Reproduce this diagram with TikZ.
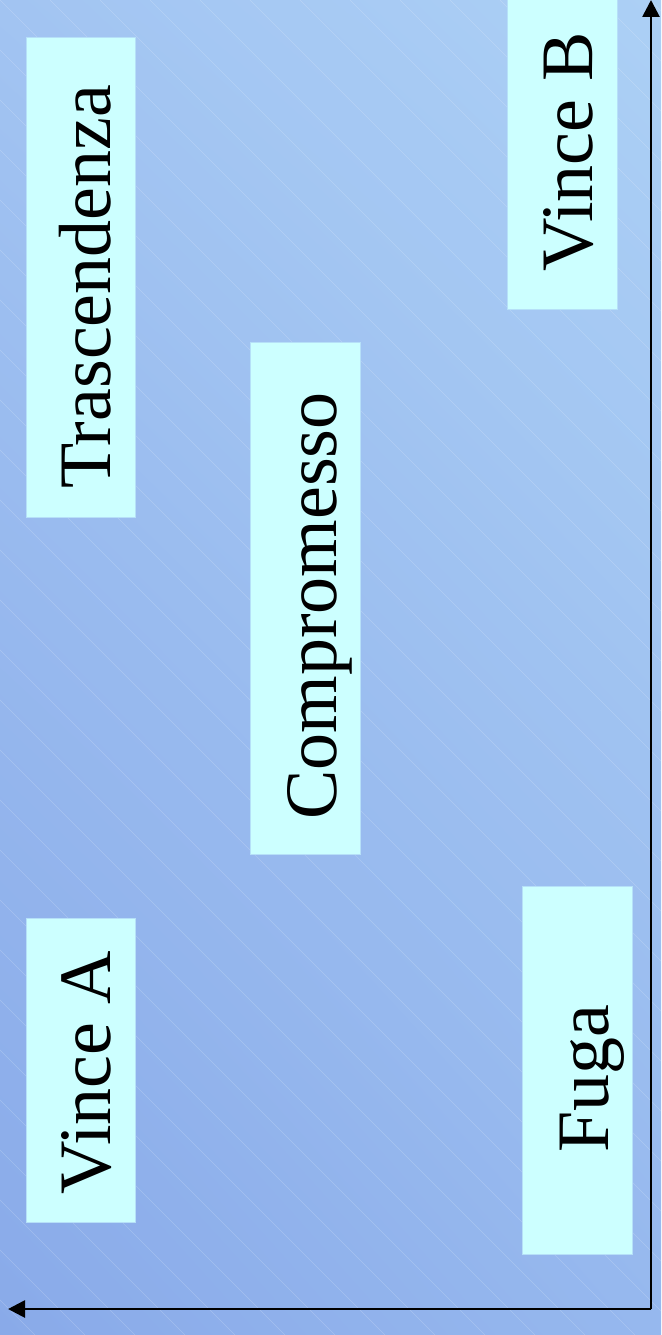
\documentclass[tikz,border=0pt]{standalone}
\usepackage{xcolor}
\usepackage{fontspec}
\setmainfont{Liberation Serif}
\usepackage{tikz}
\usetikzlibrary{arrows.meta, positioning, shadings}
\definecolor{bgupleft}{HTML}{A2C4F2}
\definecolor{bgupright}{HTML}{ACD0F5}
\definecolor{bglowleft}{HTML}{89AAE9}
\definecolor{bglowright}{HTML}{96B8EE}
\definecolor{outcomefill}{HTML}{CCFFFF}
\definecolor{outcomeedge}{HTML}{B6E0F8}

\begin{document}
\begin{tikzpicture}[x=1pt, y=-1pt,
    outcome/.style={fill=outcomefill, draw=outcomeedge, line width=0.6pt, inner sep=0pt},
    outlabel/.style={rotate=90, anchor=base west, inner sep=0pt, font=\fontsize{74}{80}\selectfont},
    axis/.style={line width=2.7pt, -{Triangle[length=17pt, width=17pt]}}]
    \useasboundingbox (0,0) rectangle (661,1335);

    % Background
    \shade[upper left=bgupleft, upper right=bgupright, lower left=bglowleft, lower right=bglowright] (0,0) rectangle (661,1335);
    \begin{scope}
        \clip (0,0) rectangle (661,1335);
        \foreach \i in {-1350,-1300,...,650}
            \draw[white, opacity=0.2, line width=0.5pt] (\i,0) -- ++(1335,1335);
    \end{scope}

    % Outcome boxes
    \node[outcome, minimum width=109pt, minimum height=480pt] (trasc) at (80.5,277) {};
    \node[outcome, minimum width=110pt, minimum height=310pt] (vinceb) at (562,154) {};
    \node[outcome, minimum width=110pt, minimum height=512pt] (comp) at (305,598) {};
    \node[outcome, minimum width=109pt, minimum height=304pt] (vincea) at (80.5,1070) {};
    \node[outcome, minimum width=110pt, minimum height=368pt] (fuga) at (577,1070) {};

    % Labels
    \node[outlabel] (trasc-t) at (110.5,489) {Trascendenza};
    \node[outlabel] (vinceb-t) at (592,272) {Vince B};
    \node[outlabel] (comp-t) at (336,820) {Compromesso};
    \node[outlabel] (vincea-t) at (110.5,1195) {Vince A};
    \node[outlabel] (fuga-t) at (608,1153) {Fuga};

    % Axes
    \coordinate (origin) at (651,1309);
    \coordinate (ytop) at (651,0);
    \coordinate (xleft) at (8,1309);
    \draw[axis] (origin) -- (ytop);
    \draw[axis] (origin) -- (xleft);
\end{tikzpicture}
\end{document}
